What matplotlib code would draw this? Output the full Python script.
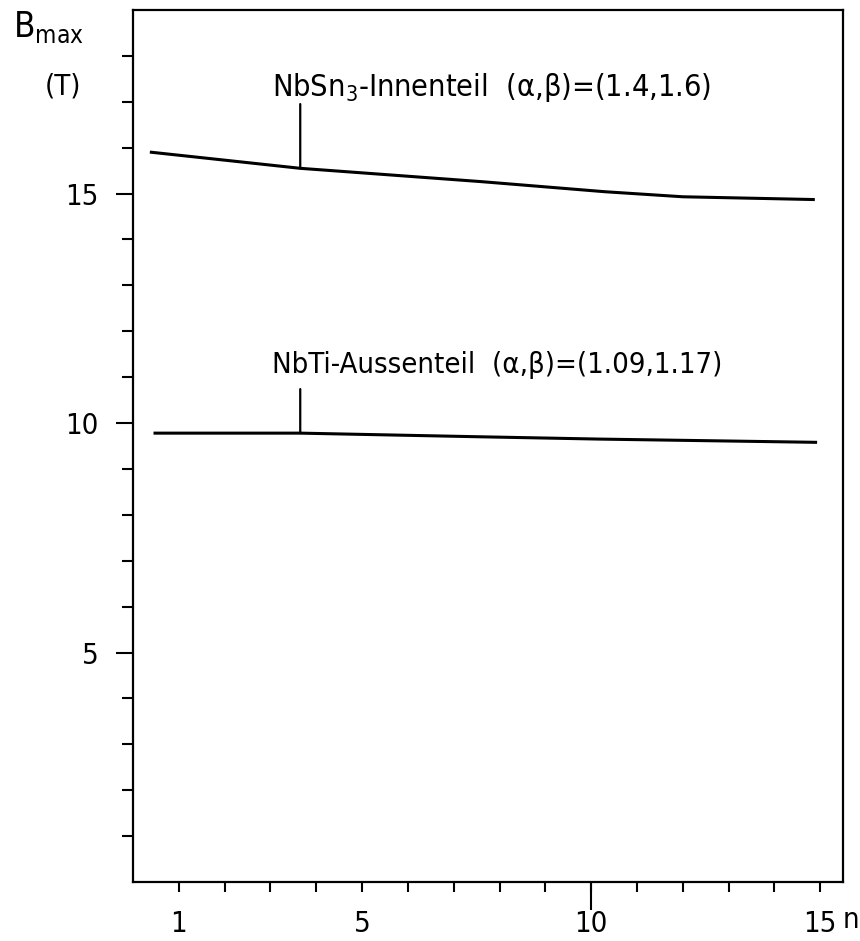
import matplotlib
matplotlib.use('Agg')
import matplotlib.pyplot as plt

# Daten
n_nbsn = [0.4, 3.65, 7.6, 10.3, 12.0, 14.85]
b_nbsn = [15.9, 15.55, 15.26, 15.04, 14.93, 14.87]
n_nbti = [0.48, 3.65, 7.6, 10.2, 14.9]
b_nbti = [9.78, 9.78, 9.70, 9.65, 9.58]

x_major = [1, 5, 10, 15]
x_minor = [2, 3, 4, 6, 7, 8, 9, 11, 12, 13, 14]
y_major = [5, 10, 15]
y_minor = [1, 2, 3, 4, 6, 7, 8, 9, 11, 12, 13, 14, 16, 17, 18]

label_nbsn = 'NbSn$_3$-Innenteil  (α,β)=(1.4,1.6)'
label_nbti = 'NbTi-Aussenteil  (α,β)=(1.09,1.17)'

plt.rcParams['font.family'] = 'DejaVu Sans'
plt.rcParams['font.stretch'] = 'condensed'
plt.rcParams['mathtext.fontset'] = 'custom'
plt.rcParams['mathtext.rm'] = 'DejaVu Sans'

fs = 21

fig = plt.figure(figsize=(8.6, 9.41), dpi=100)
ax = fig.add_axes([0.1547, 0.0627, 0.8256, 0.9267])

ax.plot(n_nbsn, b_nbsn, color='black', lw=2.2)
ax.plot(n_nbti, b_nbti, color='black', lw=2.2)

ax.set_xlim(0, 15.5)
ax.set_ylim(0, 19)

for s in ax.spines.values():
    s.set_linewidth(1.6)

ax.set_xticks(x_major)
ax.set_xticks(x_minor, minor=True)
ax.set_yticks(y_major)
ax.set_yticks(y_minor, minor=True)
ax.tick_params(axis='x', which='both', direction='out', length=7, width=1.5,
               labelsize=fs, pad=13)
ax.tick_params(axis='y', which='major', direction='out', length=12, width=1.5,
               labelsize=fs, pad=13)
ax.tick_params(axis='y', which='minor', direction='out', length=8, width=1.5)

# langer Strich bei n = 10
sec = ax.secondary_xaxis('bottom')
sec.set_xticks([10])
sec.tick_params(length=20, width=1.5, labelbottom=False)
sec.spines['bottom'].set_visible(False)

ax.text(15.48, -0.053, 'n', fontsize=fs, ha='left', va='baseline',
        transform=ax.get_xaxis_transform())

# Beschriftungen mit Zeigerstrichen
ax.text(3.03, 17.12, label_nbsn, fontsize=fs + 1, ha='left', va='baseline')
ax.annotate('', xy=(3.65, 15.55), xytext=(3.65, 16.95),
            arrowprops=dict(arrowstyle='-', lw=1.6, shrinkA=0, shrinkB=0))
ax.text(3.03, 11.09, label_nbti, fontsize=fs, ha='left', va='baseline')
ax.annotate('', xy=(3.65, 9.78), xytext=(3.65, 10.74),
            arrowprops=dict(arrowstyle='-', lw=1.6, shrinkA=0, shrinkB=0))

fig.text(13 / 860, 1 - 37 / 941, 'B$_{\\mathrm{max}}$', fontsize=fs + 4,
         ha='left', va='baseline')
fig.text(63 / 860, 1 - 94 / 941, '(T)', fontsize=fs, ha='center', va='baseline')

fig.savefig('out.png', dpi=100)
